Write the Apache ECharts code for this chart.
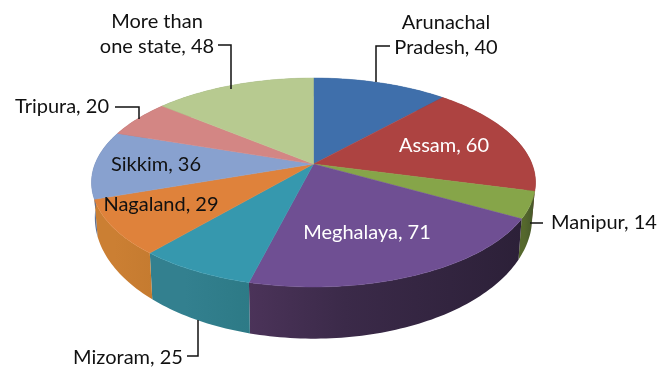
<!DOCTYPE html>
<html>
<head>
<meta charset="utf-8">
<style>html,body{margin:0;padding:0;background:#fff}#c{width:658px;height:369px}</style>
<script src="https://cdn.jsdelivr.net/npm/echarts@6/dist/echarts.min.js"></script>
</head>
<body>
<div id="c"></div>
<script>
var categories = ['Arunachal\nPradesh','Assam','Manipur','Meghalaya','Mizoram','Nagaland','Sikkim','Tripura','More than\none state'];
var values = [40,60,14,71,25,29,36,20,48];
var topColors = ['#3f6fab','#ad4341','#86a549','#6f4f93','#3698ae','#df823b','#88a1cf','#d38684','#b7ca90'];
var sideLeft  = ['#2c4e78','#7a2f2e','#55682c','#4b3359','#33808f','#cb7f33','#5f7192','#94605e','#81906a'];
var sideRight = ['#2c4e78','#7a2f2e','#45562a','#2c2038','#2d7a86','#c57b30','#5f7192','#94605e','#81906a'];
var labelCentres = [[446,35],[444,146],[604,223],[367,233],[128,358],[161,205],[156,165],[62,107],[157,34]];
var labelColours = ['#111','#fff','#111','#fff','#111','#111','#111','#111','#111'];
var leaders = [
  [[390,46],[376,46],[376,82]],
  [[530,223],[543,223]],
  [[187,356],[198,356],[198,320]],
  [[115,107],[139,107],[139,119]],
  [[218,45],[231,45],[231,89]]
];

var total = values.reduce(function(a,b){return a+b;},0);
var cumulative = [0];
values.forEach(function(v,i){cumulative.push(cumulative[i]+v);});

// perspective projection of the pie's circular rim
var X0=313.5,Y0=164,W=218.5,H=101.2,K=0.177,DEPTH_Y0=196,DEPTH_YS=1.16,DEPTH_XS=0.985;
function rim(theta,lower){
  var w=1+K*Math.cos(theta), dx=W*Math.sin(theta)/w, dy=-H*Math.cos(theta)/w;
  return lower ? [X0+dx*DEPTH_XS, DEPTH_Y0+dy*DEPTH_YS] : [X0+dx, Y0+dy];
}
function arc(i,lower){
  var a=cumulative[i]/total*2*Math.PI, b=cumulative[i+1]/total*2*Math.PI, pts=[];
  var n=Math.max(8,Math.ceil((b-a)/0.02));
  for(var j=0;j<=n;j++){pts.push(rim(a+(b-a)*j/n,lower));}
  return pts;
}
var seriesData = values.map(function(v,i){return {name:categories[i],value:[i,v]};});

var graphics = [];
leaders.forEach(function(p){
  graphics.push({type:'polyline',z:50,shape:{points:p},style:{stroke:'#111',lineWidth:1.5,fill:null}});
});
categories.forEach(function(c,i){
  graphics.push({type:'text',z:60,x:labelCentres[i][0],y:labelCentres[i][1],
    style:{text:c+', '+values[i],fill:labelColours[i],font:'20px Lato, Carlito, "Open Sans", sans-serif',
      align:'center',verticalAlign:'middle',lineHeight:25.5}});
});

var chart = echarts.init(document.getElementById('c'),null,{renderer:'canvas'});
chart.setOption({
  animation:false,
  backgroundColor:'#fff',
  graphic:graphics,
  series:[
    {type:'custom',coordinateSystem:'none',z:1,silent:true,data:seriesData,
     renderItem:function(params,api){
       var i=api.value(0), up=arc(i,false), low=arc(i,true).reverse();
       return {type:'polygon',shape:{points:up.concat(low)},
         style:{fill:new echarts.graphic.LinearGradient(0,0,1,0,[{offset:0,color:sideLeft[i]},{offset:0.35,color:i===3?'#3b2a49':sideLeft[i]},{offset:1,color:sideRight[i]}])}};
     }},
    {type:'custom',coordinateSystem:'none',z:2,silent:true,data:seriesData,
     renderItem:function(params,api){
       var i=api.value(0);
       return {type:'polygon',shape:{points:[[X0,Y0]].concat(arc(i,false))},
         style:{fill:topColors[i],stroke:topColors[i],lineWidth:0.5}};
     }}
  ]
});
</script>
</body>
</html>
